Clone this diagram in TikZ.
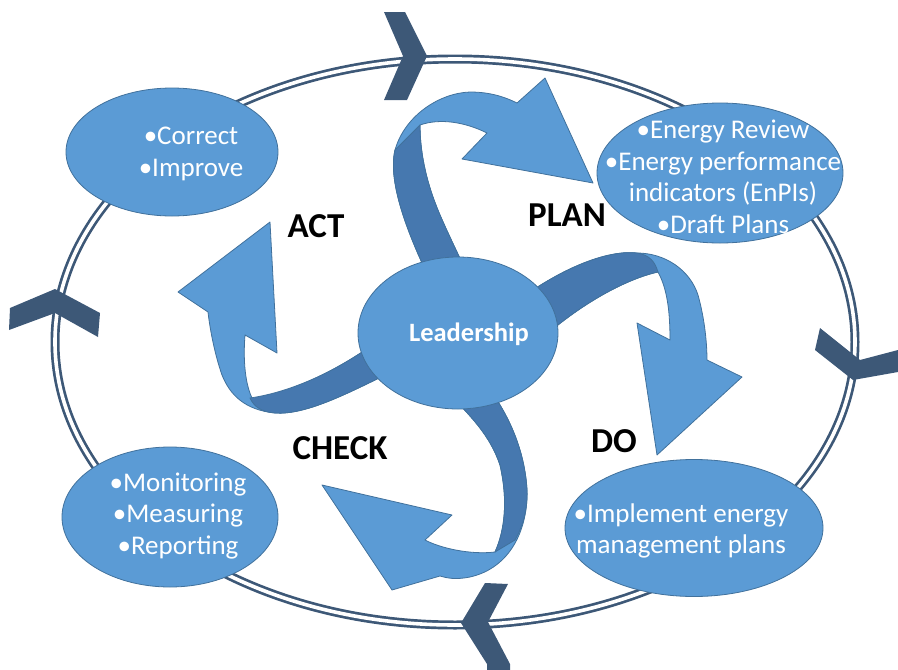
\documentclass[tikz,border=0pt]{standalone}
\usepackage{fontspec}
\setmainfont{Carlito}
\usetikzlibrary{shapes.geometric}
\definecolor{ringc}{HTML}{3D5877}
\definecolor{lightc}{HTML}{5B9BD5}
\definecolor{darkc}{HTML}{4678AF}
\definecolor{edgec}{HTML}{41719C}
\begin{document}
\begin{tikzpicture}[x=1pt,y=-1pt,
  ring/.style={draw=ringc, line width=2.7pt, double=white, double distance=3.6pt, ellipse, inner sep=0pt},
  chev/.style={fill=ringc, draw=none},
  stage/.style={draw=edgec, line width=0.8pt, fill=lightc, ellipse, inner sep=0pt},
  arrl/.style={fill=lightc, draw=edgec, line width=0.8pt, line join=round},
  arrd/.style={fill=darkc, draw=edgec, line width=0.8pt, line join=round},
  txt/.style={text=white, align=center, font=\fontsize{27}{31.5}\selectfont},
  lbl/.style={text=black, font=\fontsize{35}{40}\selectfont\bfseries}]
\useasboundingbox (0,0) rectangle (898,670);
\clip (0,0) rectangle (898,670);
% ring
\node[ring, minimum width=800pt, minimum height=566pt] (ringnode) at (455,342) {};
% chevrons
\fill[chev] (384,12) -- (405,12) -- (427,56) -- (407,100) -- (384,100) -- (403,56) -- cycle;
\fill[chev] (10,308) -- (55,289) -- (100,313) -- (98,337) -- (55,313) -- (9,330) -- cycle;
\fill[chev] (820,328) -- (860,360) -- (898,350) -- (898,372) -- (853,380) -- (815,350) -- cycle;
\fill[chev] (485,583) -- (508,584) -- (488,622) -- (510,664) -- (510,680) -- (487,680) -- (487,664) -- (461,623) -- cycle;
% PLAN arrow
\path[arrl] (430,280) .. controls (405,228) and (388,180) .. (395,150)
  .. controls (405,115) and (440,93) .. (470,92) .. controls (490,92) and (505,97) .. (517,103)
  -- (545,78) -- (593,183) -- (462,159) -- (487,133)
  .. controls (465,122) and (440,118) .. (420,125)
  .. controls (420,150) and (425,180) .. (440,215) .. controls (450,238) and (460,258) .. (470,280) -- cycle;
\path[arrd] (420,125) .. controls (420,150) and (425,180) .. (440,215) .. controls (450,238) and (460,258) .. (470,280)
  -- (430,280) .. controls (405,228) and (388,180) .. (395,150) -- cycle;
% ACT arrow
\path[arrl] (270,222) -- (277,353) -- (245,335)
  .. controls (243,360) and (245,385) .. (253,400)
  .. controls (285,393) and (335,375) .. (390,332)
  -- (395,370) .. controls (345,395) and (305,415) .. (275,413)
  .. controls (245,410) and (230,395) .. (222,375) .. controls (215,355) and (210,330) .. (208,312)
  -- (178,292) -- cycle;
\path[arrd] (250,398) .. controls (285,393) and (335,375) .. (390,332)
  -- (395,370) .. controls (345,395) and (305,415) .. (275,413) .. controls (262,412) and (254,407) .. (250,398) -- cycle;
% DO arrow
\path[arrl] (530,292) .. controls (570,265) and (610,250) .. (637,253)
  .. controls (665,253) and (690,270) .. (698,295) .. controls (705,320) and (707,345) .. (707,360)
  -- (742,377) -- (657,455) -- (637,323) -- (670,340)
  .. controls (670,315) and (668,290) .. (658,272)
  .. controls (630,278) and (585,300) .. (540,340) -- cycle;
\path[arrd] (530,292) .. controls (570,265) and (610,250) .. (637,253)
  .. controls (650,255) and (655,262) .. (658,272)
  .. controls (630,278) and (585,300) .. (540,340) -- cycle;
% CHECK arrow
\path[arrl] (322,485) -- (452,515) -- (425,540)
  .. controls (440,548) and (470,555) .. (495,552)
  .. controls (505,530) and (508,500) .. (500,465) .. controls (490,435) and (470,415) .. (445,390)
  -- (490,390) .. controls (512,420) and (525,455) .. (527,490)
  .. controls (528,530) and (510,568) .. (470,577) .. controls (455,580) and (447,578) .. (440,576)
  -- (392,590) -- cycle;
\path[arrd] (495,552) .. controls (505,530) and (508,500) .. (500,465) .. controls (490,435) and (470,415) .. (445,390)
  -- (490,390) .. controls (512,420) and (525,455) .. (527,490) .. controls (528,510) and (522,528) .. (515,540) -- cycle;
% stage ellipses
\node[stage, minimum width=212pt, minimum height=128pt] (act) at (172,152) {};
\node[stage, minimum width=246pt, minimum height=140pt] (plan) at (720,173) {};
\node[stage, minimum width=216pt, minimum height=140pt] (check) at (170,517) {};
\node[stage, minimum width=258pt, minimum height=137pt] (do) at (694,528) {};
\node[stage, minimum width=200pt, minimum height=152pt] (lead) at (458,333) {};
% texts
\node[text=white, font=\fontsize{26.5}{30}\selectfont\bfseries] (leadtxt) at (469,334) {Leadership};
\node[txt] (acttxt) at (191,154) {•Correct\\•Improve};
\node[txt] (plantxt) at (723,177) {•Energy Review\\•Energy performance\\indicators (EnPIs)\\•Draft Plans};
\node[txt] (checktxt) at (178,516) {•Monitoring\\•Measuring\\•Reporting};
\node[txt] (dotxt) at (681,531) {•Implement energy\\management plans};
% labels
\node[lbl] (actl) at (316,226) {ACT};
\node[lbl] (planl) at (567,215) {PLAN};
\node[lbl] (dol) at (614,441) {DO};
\node[lbl] (checkl) at (340,448) {CHECK};
\end{tikzpicture}
\end{document}
